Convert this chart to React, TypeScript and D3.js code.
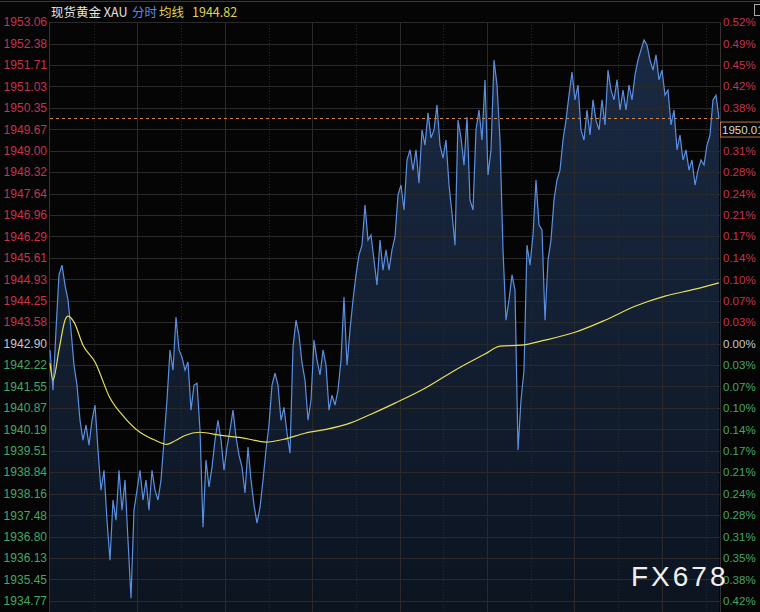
import React from "react";
import * as d3 from "d3";

const W = 760;
const H = 612;

const prevClose = 1942.9;
const lastPrice = 1950.01;
const avgLast = 1944.82;

const leftTicks = [
  1953.06, 1952.38, 1951.71, 1951.03, 1950.35, 1949.67, 1949.0, 1948.32, 1947.64, 1946.96,
  1946.29, 1945.61, 1944.93, 1944.25, 1943.58, 1942.9, 1942.22, 1941.55, 1940.87, 1940.19,
  1939.51, 1938.84, 1938.16, 1937.48, 1936.8, 1936.13, 1935.45, 1934.77,
];
const pctTicks = [
  "0.52%", "0.49%", "0.45%", "0.42%", "0.38%", "0.35%", "0.31%", "0.28%", "0.24%", "0.21%",
  "0.17%", "0.14%", "0.10%", "0.07%", "0.03%", "0.00%", "0.03%", "0.07%", "0.10%", "0.14%",
  "0.17%", "0.21%", "0.24%", "0.28%", "0.31%", "0.35%", "0.38%", "0.42%",
];

// minute price series (evenly spaced samples)
const prices = [
  1942.70, 1941.43, 1943.33, 1945.07, 1945.38, 1944.75, 1944.28, 1943.33, 1942.22, 1941.59,
  1940.48, 1939.85, 1940.33, 1939.69, 1940.48, 1940.96, 1939.54, 1938.27, 1938.90, 1937.32,
  1936.06, 1937.96, 1937.32, 1938.90, 1937.64, 1938.59, 1936.69, 1934.86, 1937.64, 1938.27,
  1938.90, 1937.96, 1938.59, 1937.64, 1938.90, 1938.27, 1937.96, 1938.59, 1939.85, 1941.12,
  1942.70, 1942.06, 1943.74, 1942.70, 1942.47, 1942.06, 1942.32, 1940.80, 1941.59, 1941.65,
  1940.17, 1937.10, 1939.22, 1938.37, 1939.00, 1939.85, 1940.48, 1939.85, 1938.90, 1939.63,
  1940.17, 1940.80, 1939.95, 1939.38, 1939.00, 1938.18, 1939.63, 1938.59, 1937.80, 1937.23,
  1937.73, 1938.59, 1939.54, 1940.33, 1941.59, 1941.97, 1941.59, 1940.48, 1940.89, 1940.07,
  1939.44, 1942.79, 1943.64, 1943.17, 1942.29, 1941.75, 1940.48, 1941.12, 1943.01, 1942.38,
  1941.91, 1942.70, 1942.22, 1940.80, 1941.27, 1940.96, 1941.43, 1942.38, 1944.37, 1942.22,
  1943.33, 1944.28, 1945.07, 1945.70, 1946.01, 1947.28, 1946.17, 1946.33, 1945.54, 1944.75,
  1946.17, 1945.22, 1945.86, 1945.22, 1945.86, 1946.27, 1947.59, 1947.91, 1947.12, 1948.70,
  1949.02, 1948.38, 1949.02, 1947.97, 1949.65, 1949.17, 1950.19, 1949.40, 1949.65, 1950.44,
  1949.17, 1948.76, 1949.33, 1947.91, 1947.02, 1946.01, 1949.96, 1949.40, 1948.54, 1950.06,
  1947.44, 1947.12, 1949.65, 1950.28, 1949.33, 1951.23, 1948.23, 1949.02, 1951.86, 1951.07,
  1949.33, 1945.86, 1943.64, 1944.28, 1945.07, 1944.59, 1939.54, 1941.12, 1942.06, 1946.01,
  1945.38, 1946.33, 1948.07, 1946.65, 1946.49, 1943.64, 1945.54, 1946.17, 1947.44, 1948.07,
  1948.38, 1949.33, 1949.96, 1950.75, 1951.48, 1950.60, 1951.07, 1949.65, 1949.33, 1950.28,
  1949.49, 1950.60, 1949.96, 1949.65, 1950.60, 1949.81, 1951.54, 1950.91, 1950.60, 1951.23,
  1950.28, 1950.91, 1950.28, 1951.07, 1950.60, 1951.39, 1951.86, 1952.18, 1952.49, 1952.33,
  1951.86, 1951.54, 1952.02, 1951.23, 1951.54, 1950.75, 1950.91, 1949.81, 1950.28, 1949.02,
  1949.49, 1948.70, 1949.02, 1948.38, 1948.70, 1947.91, 1948.38, 1948.70, 1948.54, 1949.17,
  1949.49, 1950.60, 1950.75, 1950.01,
];

// average line: [sample index, value]
const avgIdx = [0, 1, 3, 5, 6, 8, 11, 15, 20, 25, 30, 35, 39, 42, 45, 50, 57, 65, 72, 78, 85, 92, 100, 107, 115, 125, 135, 145, 150, 157, 165, 175, 185, 195, 205, 215, 223];
const avgVal = [
  1942.28, 1941.75, 1942.70, 1943.64, 1943.77, 1943.58, 1942.85, 1942.32, 1941.18, 1940.55,
  1940.10, 1939.85, 1939.72, 1939.85, 1940.00, 1940.10, 1940.00, 1939.91, 1939.79, 1939.88,
  1940.07, 1940.19, 1940.39, 1940.67, 1941.02, 1941.49, 1942.06, 1942.57, 1942.82, 1942.85,
  1943.01, 1943.26, 1943.64, 1944.08, 1944.40, 1944.62, 1944.82,
];

const PL = 50;
const PR = 719;
const PT = 22;
const PB = 601;

export default function App() {
  const x = d3.scaleLinear().domain([0, prices.length - 1]).range([PL, PR]);
  const y = d3.scaleLinear().domain([leftTicks[leftTicks.length - 1], leftTicks[0]]).range([PB, PT]);

  const line = d3
    .line<number>()
    .x((_, i) => x(i))
    .y((d) => y(d));
  const area = d3
    .area<number>()
    .x((_, i) => x(i))
    .y0(H)
    .y1((d) => y(d));
  const avgData = avgIdx.map((t, i) => [t, avgVal[i]] as [number, number]);
  const avgLine = d3
    .line<[number, number]>()
    .x((d) => x(d[0]))
    .y((d) => y(d[1]))
    .curve(d3.curveMonotoneX);

  const colorFor = (v: number) =>
    Math.abs(v - prevClose) < 0.005 ? "#c8c8c8" : v > prevClose ? "#c8334a" : "#45a565";

  const gridStep = 43.7;
  const vgrid: number[] = [];
  for (let k = 1; PL + k * gridStep < PR; k++) vgrid.push(k);

  const yLast = y(lastPrice);
  const boxTop = yLast + 3.5;
  const boxH = 15;
  const font = "'Liberation Sans', Arial, sans-serif";

  return (
    <div style={{ position: "absolute", left: 0, top: 0 }}>
      <svg width={W} height={H} style={{ display: "block", background: "#050505" }}>
        <defs>
          <linearGradient id="fillG" x1="0" y1="0" x2="0" y2="1">
            <stop offset="0" stopColor="#1a2a44" />
            <stop offset="1" stopColor="#0c1420" />
          </linearGradient>
          <clipPath id="plotClip">
            <rect x={PL} y={0} width={PR - PL} height={H} />
          </clipPath>
        </defs>
        <rect x={0} y={0} width={W} height={H} fill="#050505" />
        <line x1={0} x2={W} y1={1.5} y2={1.5} stroke="#3a3a3a" />

        <path d={area(prices) || ""} fill="url(#fillG)" clipPath="url(#plotClip)" />

        {leftTicks.map((v, i) => (
          <line key={"h" + i} x1={PL} x2={PR + 1} y1={Math.round(y(v)) + 0.5} y2={Math.round(y(v)) + 0.5} stroke="#2a2a2a" />
        ))}
        {vgrid.map((k) => (
          <line
            key={"v" + k}
            x1={Math.round(PL + k * gridStep) + 0.5}
            x2={Math.round(PL + k * gridStep) + 0.5}
            y1={PT}
            y2={H}
            stroke="#2a2a2a"
            strokeDasharray={k % 2 === 1 ? "1,2" : undefined}
          />
        ))}
        <line x1={PL - 0.5} x2={PL - 0.5} y1={PT} y2={H} stroke="#333" />
        <line x1={PR + 1.5} x2={PR + 1.5} y1={PT} y2={H} stroke="#333" />

        <line x1={PL} x2={PR} y1={yLast} y2={yLast} stroke="#d9893a" strokeDasharray="3,3" />

        <path d={line(prices) || ""} fill="none" stroke="#5b8fe0" strokeWidth={1.2} />
        <path d={avgLine(avgData) || ""} fill="none" stroke="#e6df5a" strokeWidth={1.2} />

        {leftTicks.map((v, i) => (
          <text
            key={"l" + i}
            x={47}
            y={y(v)}
            dy="0.36em"
            textAnchor="end"
            fontFamily={font}
            fontSize={12}
            fill={colorFor(v)}
          >
            {v.toFixed(2)}
          </text>
        ))}
        {pctTicks.map((p, i) => {
          const ty = y(leftTicks[i]);
          if (ty > boxTop - 4 && ty < boxTop + boxH + 4) return null;
          return (
            <text
              key={"r" + i}
              x={723}
              y={ty}
              dy="0.36em"
              fontFamily={font}
              fontSize={11.5}
              fill={colorFor(leftTicks[i])}
            >
              {p}
            </text>
          );
        })}

        <svg x={720} y={boxTop - 1} width={40} height={boxH + 2} overflow="hidden">
          <rect x={0.5} y={1} width={45} height={boxH} fill="#050505" stroke="#c0763a" />
          <text x={2} y={boxH / 2 + 1} dy="0.36em" fontFamily={font} fontSize={11.5} fill="#d8d8d8">
            {lastPrice.toFixed(2)}
          </text>
        </svg>

        <rect x={754.5} y={4.5} width={8} height={11} fill="none" stroke="#aaa" />

        <text x={51} y={17} fontFamily="'Noto Sans CJK SC', 'Liberation Sans', sans-serif" fontSize={12.5}>
          <tspan fill="#e2e2e2">现货黄金 XAU</tspan>
          <tspan x={132} fill="#5a8be0">分时</tspan>
          <tspan x={159} fill="#e0d44a">均线</tspan>
          <tspan x={192} fill="#e0d44a">{avgLast.toFixed(2)}</tspan>
        </text>

        <text x={631} y={586} fontFamily={font} fontSize={28} letterSpacing={3} fill="#f0f0f0">
          FX678
        </text>
      </svg>
    </div>
  );
}
